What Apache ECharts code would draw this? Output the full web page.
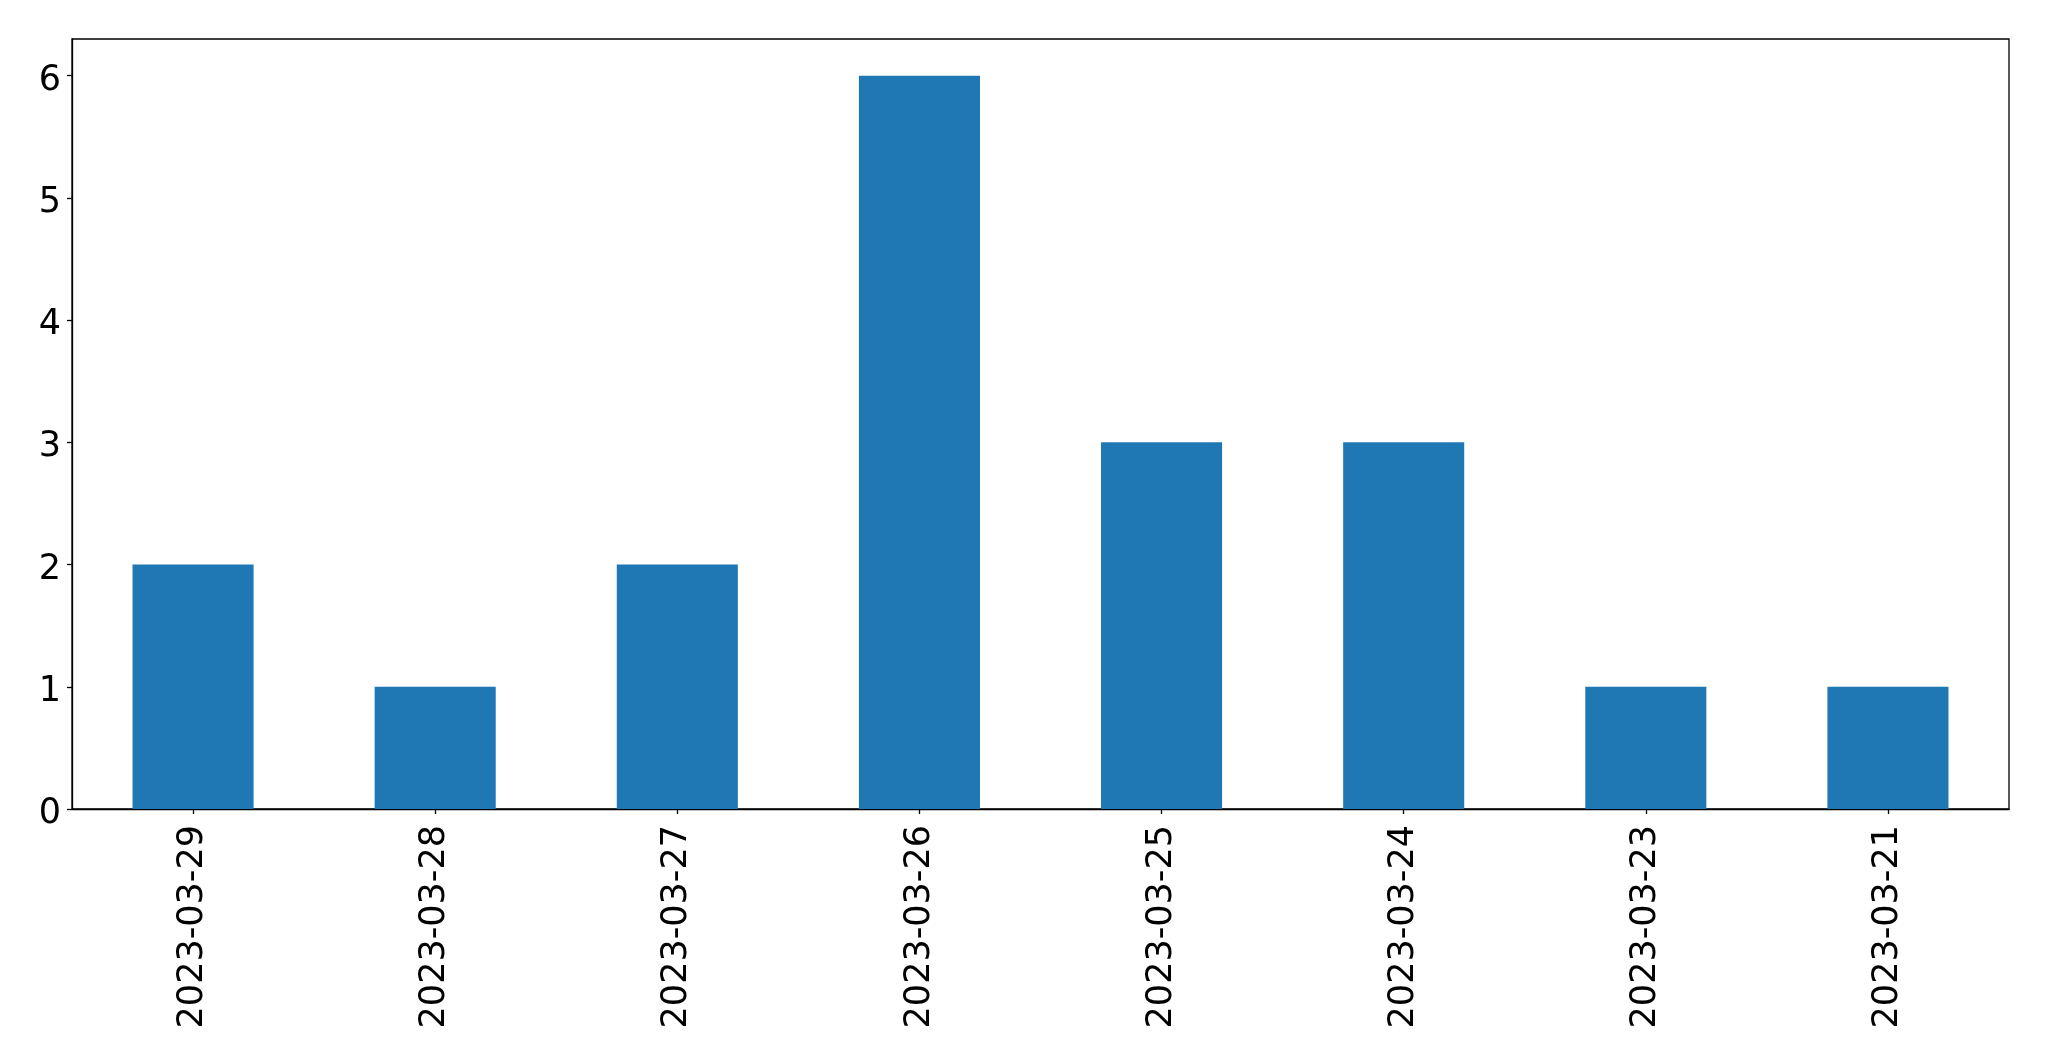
<!DOCTYPE html>
<html><head><meta charset="utf-8">
<script src="https://cdn.jsdelivr.net/npm/echarts@6/dist/echarts.min.js"></script>
<style>html,body{margin:0;padding:0;background:#fff}#c{width:2049px;height:1061px}</style>
</head><body><div id="c"></div>
<script>
const categories = ['2023-03-29','2023-03-28','2023-03-27','2023-03-26','2023-03-25','2023-03-24','2023-03-23','2023-03-21'];
const counts = [2,1,2,6,3,3,1,1];
const yTicks = [0,1,2,3,4,5,6];
const chart = echarts.init(document.getElementById('c'), null, {renderer:'canvas'});
chart.setOption({
  animation:false,
  textStyle:{fontFamily:'DejaVu Sans'},
  grid:{left:72,top:39,right:40,bottom:252,show:true,borderColor:'#000',borderWidth:1.3,containLabel:false},
  xAxis:{type:'category',data:categories,
    axisLine:{show:true,lineStyle:{color:'#000',width:1.3}},
    axisTick:{show:true,alignWithLabel:true,length:5,lineStyle:{color:'#000',width:1.3}},
    axisLabel:{rotate:90,margin:16,fontSize:35,color:'#000',fontFamily:'DejaVu Sans',interval:0}},
  yAxis:{type:'value',min:0,max:6.3,interval:1,
    splitLine:{show:false},
    axisLine:{show:true,lineStyle:{color:'#000',width:1.3}},
    axisTick:{show:true,length:5,customValues:yTicks,lineStyle:{color:'#000',width:1.3}},
    axisLabel:{margin:11,color:'#000',customValues:yTicks,
      formatter: v => '{a|' + v + '}',
      rich:{a:{fontSize:35,color:'#000',fontFamily:'DejaVu Sans',padding:[10,0,0,0]}}}},
  series:[{type:'bar',data:counts,barWidth:'50%',itemStyle:{color:'#1f77b4'}}]
});
</script></body></html>
